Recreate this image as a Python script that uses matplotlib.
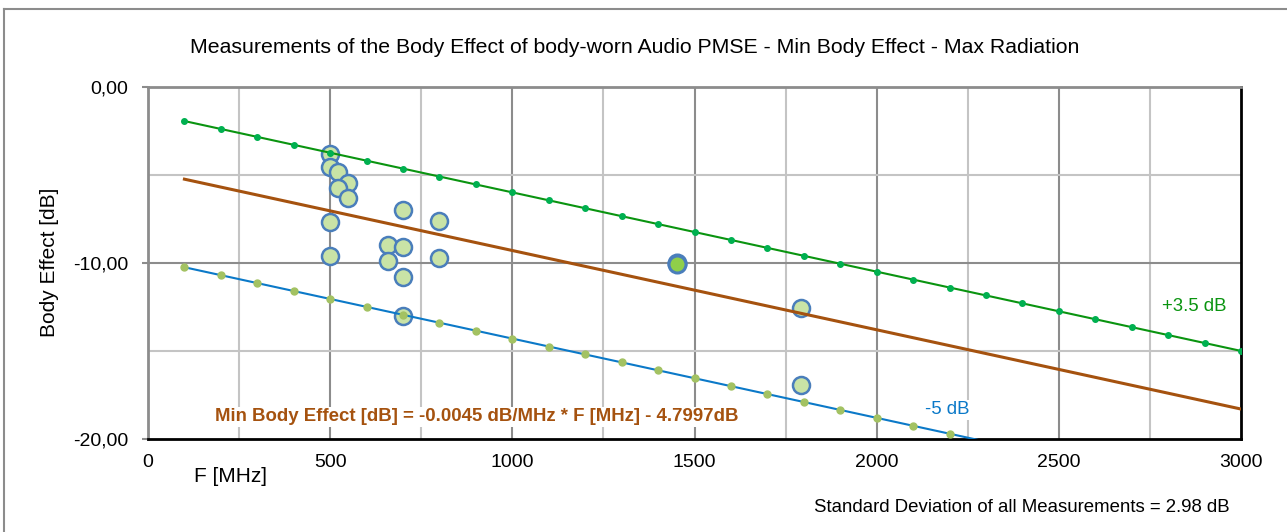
import numpy as np
import matplotlib
matplotlib.use("Agg")
import matplotlib.pyplot as plt
from matplotlib.lines import Line2D

plt.rcParams['font.family'] = ['Liberation Sans', 'DejaVu Sans']

# measured body effect points (F in MHz, dB)
meas_f = [500, 500, 521, 549, 521, 549, 700, 799, 500, 659, 700, 500, 799, 659, 700, 700, 1792, 1792]
meas_db = [-3.82, -4.56, -4.84, -5.47, -5.75, -6.32, -7.01, -7.64, -7.69, -9.0, -9.12, -9.63,
           -9.74, -9.91, -10.83, -12.99, -12.59, -16.92]
# overlapped points at 1452 MHz (drawn darker in the reference)
stack_f = [1452, 1452]
stack_db = [-10.0, -10.07]

# regression stated on the chart
slope = -0.0045
intercept = -4.7997
upper_offset = 3.3
lower_offset = -5.0
line_f = np.arange(100, 3001, 100)

fig = plt.figure(figsize=(12.87, 5.32), dpi=100)
ax = fig.add_axes([148/1287, 1-439/532, (1241-148)/1287, (439-86.7)/532])

ax.set_xlim(0, 3000)
ax.set_ylim(-20, 0)

# grid
for xv in np.arange(250, 3000, 250):
    col = '#8c8c8c' if xv % 500 == 0 else '#c4c4c4'
    ax.axvline(xv, color=col, lw=1.5, zorder=0)
for yv in [-5, -10, -15]:
    col = '#8c8c8c' if yv == -10 else '#c4c4c4'
    ax.axhline(yv, color=col, lw=1.5, zorder=0)

ax.scatter(meas_f, meas_db, s=150, facecolor='#c9e3a6', edgecolor='#4a7ebb', linewidths=1.8, zorder=2)
ax.scatter(stack_f, stack_db, s=150, facecolor='#8fcf4a', edgecolor='#4a7ebb', linewidths=2.2, zorder=2)

fit = slope*line_f + intercept
ax.plot(line_f, fit + upper_offset, color='#0a9410', lw=1.5, marker='o', ms=4,
        mfc='#00b050', mec='#00b050', zorder=3)
ax.plot(line_f, fit, color='#a5520f', lw=2.2, zorder=3)
lower = fit + lower_offset
ax.plot(line_f, lower, color='#0b79c8', lw=1.5, marker='o', ms=5,
        mfc='#a3c262', mec='#a3c262', markevery=list(np.where(lower >= -20)[0]), zorder=3)

ax.text(184, -18.75, "Min Body Effect [dB] = -0.0045 dB/MHz * F [MHz] - 4.7997dB",
        color='#a5520f', fontsize=13.4, fontweight='bold', va='center', ha='left',
        bbox=dict(facecolor='white', edgecolor='none', pad=1), zorder=4)
ax.text((1162-148)/0.3643, -12.5, "+3.5 dB", color='#0a9410', fontsize=13.4,
        va='center', ha='left', zorder=4)
ax.text((925-148)/0.3643, -18.35, "-5 dB", color='#0b79c8', fontsize=13.4,
        va='center', ha='left', bbox=dict(facecolor='white', edgecolor='none', pad=1), zorder=4)

ax.set_xticks(np.arange(0, 3001, 500))
ax.set_yticks([0, -10, -20])
ax.set_yticklabels(['0,00', '-10,00', '-20,00'])
ax.tick_params(axis='x', length=0, pad=11, labelsize=14)
ax.tick_params(axis='y', length=4.5, width=1.5, color='#8c8c8c', pad=9.5, labelsize=14)

ax.spines['left'].set_color('#8c8c8c')
ax.spines['top'].set_color('#8c8c8c')
ax.spines['left'].set_linewidth(2)
ax.spines['top'].set_linewidth(2)
ax.spines['right'].set_color('black')
ax.spines['bottom'].set_color('black')
ax.spines['right'].set_linewidth(2)
ax.spines['bottom'].set_linewidth(2)

fig.text(635/1287, 1-47.5/532, "Measurements of the Body Effect of body-worn Audio PMSE - Min Body Effect - Max Radiation",
         ha='center', va='center', fontsize=15.3)
fig.text(50/1287, 1-262/532, "Body Effect [dB]", rotation=90, ha='center', va='center', fontsize=15)
fig.text(230/1287, 1-477/532, "F [MHz]", ha='center', va='center', fontsize=15)
fig.text(1230/1287, 1-508/532, "Standard Deviation of all Measurements = 2.98 dB",
         ha='right', va='center', fontsize=13.4)

# outer chart border
fig.add_artist(Line2D([4/1287, 4/1287], [0, 1-9/532], transform=fig.transFigure, color='#8c8c8c', lw=1.5))
fig.add_artist(Line2D([4/1287, 1], [1-9/532, 1-9/532], transform=fig.transFigure, color='#8c8c8c', lw=1.5))

fig.savefig("out.png", dpi=100)
